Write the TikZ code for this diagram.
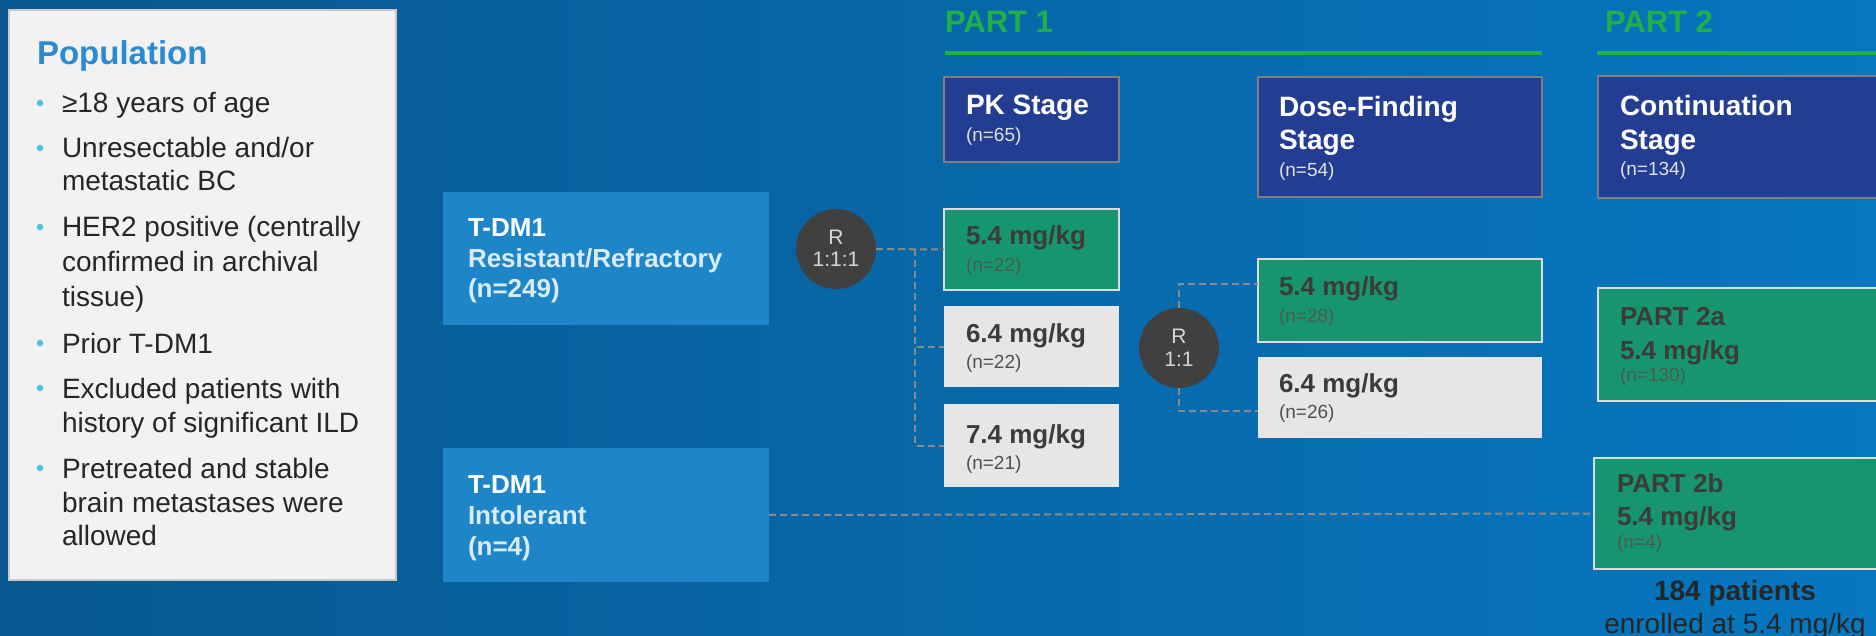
\documentclass[tikz,border=0pt]{standalone}
\usepackage{fontspec}
\setmainfont{Liberation Sans}
\usetikzlibrary{calc}
\definecolor{bgL}{HTML}{08588F}
\definecolor{bgR}{HTML}{0677C0}
\definecolor{popfill}{HTML}{F2F2F2}
\definecolor{popline}{HTML}{C8C8C8}
\definecolor{popblue}{HTML}{2A8AD2}
\definecolor{bulletc}{HTML}{4CC4E0}
\definecolor{bodytxt}{HTML}{262626}
\definecolor{tdm}{HTML}{1E86C8}
\definecolor{tdmtxt}{HTML}{D9ECF8}
\definecolor{navy}{HTML}{233D92}
\definecolor{navyline}{HTML}{7F7F7F}
\definecolor{grn}{HTML}{17956E}
\definecolor{grnline}{HTML}{DCDCDC}
\definecolor{gry}{HTML}{E6E6E6}
\definecolor{dosetxt}{HTML}{3B3B3B}
\definecolor{ngrn}{HTML}{4A5A52}
\definecolor{ngry}{HTML}{505050}
\definecolor{partgreen}{HTML}{1FAF4B}
\definecolor{rcirc}{HTML}{404040}
\definecolor{rtxt}{HTML}{D6D6D6}
\definecolor{dashgrey}{HTML}{8A8A8A}
\definecolor{ntxt}{HTML}{E2E2E2}
\tikzset{
  tx/.style={anchor=base west, inner sep=0pt, outer sep=0pt},
  txc/.style={anchor=base, inner sep=0pt, outer sep=0pt},
  boxbase/.style={rectangle, anchor=north west, inner sep=0pt, outer sep=0pt},
  popbox/.style={boxbase, fill=popfill, draw=popline, line width=1.5pt},
  tdmbox/.style={boxbase, fill=tdm},
  navybox/.style={boxbase, fill=navy, draw=navyline, line width=2pt},
  grnbox/.style={boxbase, fill=grn, draw=grnline, line width=2pt},
  grybox/.style={boxbase, fill=gry},
  rnode/.style={circle, fill=rcirc, minimum size=80pt, inner sep=0pt},
  conn/.style={draw=dashgrey, line width=2pt, dash pattern=on 7pt off 4pt},
  fpoptitle/.style={font=\fontsize{33}{40}\selectfont\bfseries, text=popblue},
  fpop/.style={font=\fontsize{28}{34}\selectfont, text=bodytxt},
  ftdm/.style={font=\fontsize{26}{31}\selectfont\bfseries},
  fpart/.style={font=\fontsize{31}{36}\selectfont\bfseries, text=partgreen},
  fstage/.style={font=\fontsize{28}{33}\selectfont\bfseries, text=white},
  fn/.style={font=\fontsize{19}{22}\selectfont},
  fdose/.style={font=\fontsize{26}{31}\selectfont\bfseries, text=dosetxt},
  fr/.style={font=\fontsize{21}{24}\selectfont, text=rtxt},
  ftot/.style={font=\fontsize{28}{33}\selectfont, text=bodytxt},
  dot/.style={circle, fill=bulletc, minimum size=6.5pt, inner sep=0pt}
}
\begin{document}
\begin{tikzpicture}[x=1pt,y=-1pt]
\useasboundingbox (0,0) rectangle (1876,636);
\clip (0,0) rectangle (1876,636);
\shade[left color=bgL, right color=bgR] (0,0) rectangle (1876,636);

% Population
\node[popbox, minimum width=387pt, minimum height=570pt] (pop) at (9,10) {};
\node[tx, fpoptitle] (poptitle) at (37,65) {Population};
\foreach \y/\t [count=\i] in {113/{≥18 years of age},158/{Unresectable and/or},191/{metastatic BC},237/{HER2 positive (centrally},272/{confirmed in archival},306/{tissue)},353/{Prior T-DM1},398/{Excluded patients with},432/{history of significant ILD},478/{Pretreated and stable},512/{brain metastases were},545/{allowed}}
  \node[tx, fpop] (pl\i) at (62,\y) {\t};
\foreach \y [count=\i] in {113,158,237,353,398,478}
  \node[dot] (bd\i) at (40,\y-10) {};

% T-DM1 boxes
\node[tdmbox, minimum width=326pt, minimum height=133pt] (tdm1) at (443,192) {};
\node[tdmbox, minimum width=326pt, minimum height=134pt] (tdm2) at (443,448) {};
\node[tx, ftdm, text=white] (t1a) at (468,237) {T-DM1};
\node[tx, ftdm, text=tdmtxt] (t1b) at (468,268) {Resistant/Refractory};
\node[tx, ftdm, text=tdmtxt] (t1c) at (468,298) {(n=249)};
\node[tx, ftdm, text=white] (t2a) at (468,493) {T-DM1};
\node[tx, ftdm, text=tdmtxt] (t2b) at (468,524) {Intolerant};
\node[tx, ftdm, text=tdmtxt] (t2c) at (468,555) {(n=4)};

% Part headers
\node[tx, fpart] (part1) at (945,33) {PART 1};
\node[tx, fpart] (part2) at (1605,33) {PART 2};
\coordinate (l1a) at (945,53);
\coordinate (l1b) at (1542,53);
\coordinate (l2a) at (1597,53);
\coordinate (l2b) at (1880,53);
\draw[partgreen, line width=3.5pt] (l1a) -- (l1b);
\draw[partgreen, line width=3.5pt] (l2a) -- (l2b);

% Stage boxes
\node[navybox, minimum width=175pt, minimum height=85pt] (pk) at (944,77) {};
\node[navybox, minimum width=284pt, minimum height=120pt] (df) at (1258,77) {};
\node[navybox, minimum width=300pt, minimum height=122pt] (cont) at (1598,76) {};
\node[tx, fstage] (pka) at (966,115) {PK Stage};
\node[tx, fn, text=ntxt] (pkb) at (966,142) {(n=65)};
\node[tx, fstage] (dfa) at (1279,117) {Dose-Finding};
\node[tx, fstage] (dfb) at (1279,150) {Stage};
\node[tx, fn, text=ntxt] (dfc) at (1279,177) {(n=54)};
\node[tx, fstage] (ca) at (1620,116) {Continuation};
\node[tx, fstage] (cb) at (1620,150) {Stage};
\node[tx, fn, text=ntxt] (cc) at (1620,176) {(n=134)};

% Dose boxes
\node[grnbox, minimum width=175pt, minimum height=81pt] (pk54) at (944,209) {};
\node[grybox, minimum width=175pt, minimum height=81pt] (pk64) at (944,306) {};
\node[grybox, minimum width=175pt, minimum height=83pt] (pk74) at (944,404) {};
\node[grnbox, minimum width=284pt, minimum height=83pt] (df54) at (1258,259) {};
\node[grybox, minimum width=284pt, minimum height=81pt] (df64) at (1258,357) {};
\node[grnbox, minimum width=300pt, minimum height=113pt] (p2a) at (1598,288) {};
\node[grnbox, minimum width=300pt, minimum height=111pt] (p2b) at (1594,458) {};

\node[tx, fdose] (pk54a) at (966,245) {5.4 mg/kg};
\node[tx, fn, text=ngrn] (pk54b) at (966,272) {(n=22)};
\node[tx, fdose] (pk64a) at (966,342) {6.4 mg/kg};
\node[tx, fn, text=ngry] (pk64b) at (966,368) {(n=22)};
\node[tx, fdose] (pk74a) at (966,443) {7.4 mg/kg};
\node[tx, fn, text=ngry] (pk74b) at (966,469) {(n=21)};
\node[tx, fdose] (df54a) at (1279,295) {5.4 mg/kg};
\node[tx, fn, text=ngrn] (df54b) at (1279,322) {(n=28)};
\node[tx, fdose] (df64a) at (1279,392) {6.4 mg/kg};
\node[tx, fn, text=ngry] (df64b) at (1279,418) {(n=26)};
\node[tx, fdose] (p2aa) at (1620,325) {PART 2a};
\node[tx, fdose] (p2ab) at (1620,359) {5.4 mg/kg};
\node[tx, fn, text=ngrn] (p2ac) at (1620,381) {(n=130)};
\node[tx, fdose] (p2ba) at (1617,492) {PART 2b};
\node[tx, fdose] (p2bb) at (1617,525) {5.4 mg/kg};
\node[tx, fn, text=ngrn] (p2bc) at (1617,548) {(n=4)};

% Randomisation circles
\node[rnode] (r1) at (836,249) {};
\node[rnode] (r2) at (1179,348) {};
\node[txc, fr] (r1a) at (836,245) {R};
\node[txc, fr] (r1b) at (836,267) {1:1:1};
\node[txc, fr] (r2a) at (1179,343) {R};
\node[txc, fr] (r2b) at (1179,366) {1:1};

% Connectors
\coordinate (split1) at (915,249);
\draw[conn] (r1.east) -- (pk54.west);
\draw[conn] (split1) |- (pk64.west);
\draw[conn] (split1) |- (pk74.west);
\draw[conn] (r2.north) |- ($(df54.north west)!0.3!(df54.south west)$);
\draw[conn] (r2.south) |- ($(df64.north west)!0.67!(df64.south west)$);
\draw[conn] (tdm2.east) -- (p2b.west);

% Totals
\node[txc, ftot, font=\fontsize{28}{33}\selectfont\bfseries] (tot1) at (1735,600) {184 patients};
\node[txc, ftot] (tot2) at (1735,633) {enrolled at 5.4 mg/kg};
\end{tikzpicture}
\end{document}
